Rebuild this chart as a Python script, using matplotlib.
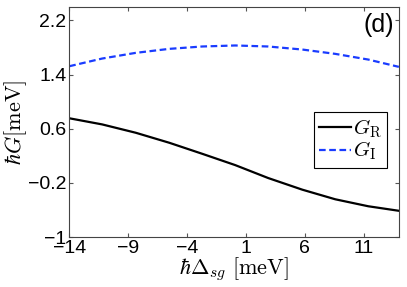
import numpy as np
import matplotlib
matplotlib.use("Agg")
from matplotlib import pyplot as plt

# values
detuning = [-14, -11.2, -8.35, -5.5, -2.7, 0.1, 2.9, 5.8, 8.6, 11.4, 14]
g_real = [0.755, 0.664, 0.541, 0.393, 0.230, 0.063, -0.128, -0.300, -0.442, -0.545, -0.612]
g_imag = [1.523, 1.637, 1.721, 1.780, 1.815, 1.830, 1.815, 1.770, 1.706, 1.622, 1.514]
xticks = [-14, -9, -4, 1, 6, 11]
yticks = [-1, -0.2, 0.6, 1.4, 2.2]

plt.rcParams['font.family'] = ['Liberation Sans', 'DejaVu Sans']
plt.rcParams['mathtext.fontset'] = 'cm'

fig = plt.figure(figsize=(4.07, 2.87), dpi=100)
ax = fig.add_axes([0.170, 0.174, 0.810, 0.802])

ax.plot(detuning, g_real, color='black', lw=1.6, label=r'$G_{\rm R}$')
ax.plot(detuning, g_imag, color='#1a3cff', lw=1.6, ls=(0, (3, 1.6)), label=r'$G_{\rm I}$')

ax.set_xlim(-14, 14)
ax.set_ylim(-1, 2.4)
ax.set_xticks(xticks)
ax.set_xticklabels(['\u2212' + str(-t) if t < 0 else str(t) for t in xticks])
ax.set_yticks(yticks)
ax.set_yticklabels(['\u22121', '\u22120.2', '0.6', '1.4', '2.2'])
ax.tick_params(direction='in', top=True, right=True, labelsize=14, length=3, pad=2,
               color='#555555')
for s in ax.spines.values():
    s.set_color('#444444')

ax.set_xlabel(r'$\hbar\Delta_{sg}\ [\mathrm{meV}]$', fontsize=16, labelpad=-1)
ax.set_ylabel(r'$\hbar G[\mathrm{meV}]$', fontsize=16, labelpad=-1)

ax.text(0.985, 0.975, '(d)', transform=ax.transAxes, ha='right', va='top', fontsize=18)

leg = ax.legend(loc='upper right', bbox_to_anchor=(0.964, 0.543), fontsize=15,
                fancybox=False, edgecolor='black', framealpha=1,
                handlelength=1.5, handletextpad=0.1, borderpad=0.25, labelspacing=0.0,
                borderaxespad=0)
leg.get_frame().set_linewidth(0.8)

fig.savefig('out.png', dpi=100)
